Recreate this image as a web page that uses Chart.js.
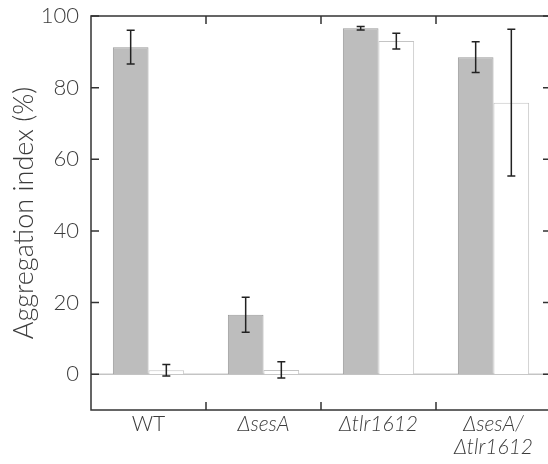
<!DOCTYPE html>
<html>
<head>
  <meta charset="utf-8" />
  <title>Aggregation index</title>
  <style>
    html, body { margin: 0; padding: 0; overflow: hidden; background: #fff; }
  </style>
</head>
<body>
  <canvas id="stage" width="556" height="464"></canvas>

  <script src="https://cdn.jsdelivr.net/npm/chart.js@4.4.1/dist/chart.umd.min.js"></script>
  <script>
    // 株ごとの値
    const strains = [['WT'], ['\u0394sesA'], ['\u0394tlr1612'], ['\u0394sesA/', '\u0394tlr1612']];
    const grayValues = [91.3, 16.6, 96.6, 88.5];
    const grayErrors = [4.7, 4.9, 0.5, 4.3];
    const whiteValues = [1.1, 1.2, 93.0, 75.8];
    const whiteErrors = [1.6, 2.3, 2.2, 20.5];
    const yTicks = [0, 20, 40, 60, 80, 100];

    const errors = [grayErrors, whiteErrors];
    const textColor = '#3c3c3c';
    const fontFamily = 'Lato, "Noto Sans", sans-serif';

    // ゼロ線・エラーバー・枠と内向きの目盛り
    const decorations = {
      id: 'decorations',
      beforeDatasetsDraw(chart) {
        const { ctx, chartArea: a, scales: { y } } = chart;
        const y0 = y.getPixelForValue(0);
        ctx.save();
        ctx.strokeStyle = '#a8a8a8';
        ctx.lineWidth = 1;
        ctx.beginPath();
        ctx.moveTo(a.left, y0);
        ctx.lineTo(a.right, y0);
        ctx.stroke();
        ctx.restore();
      },
      afterDatasetsDraw(chart) {
        const { ctx, chartArea: a, scales: { x, y } } = chart;
        ctx.save();
        ctx.strokeStyle = '#222';
        ctx.lineWidth = 1.5;
        chart.data.datasets.forEach((ds, di) => {
          chart.getDatasetMeta(di).data.forEach((bar, i) => {
            const v = ds.data[i], e = errors[di][i];
            const top = y.getPixelForValue(v + e);
            const bot = y.getPixelForValue(v - e);
            const cx = bar.x;
            ctx.beginPath();
            ctx.moveTo(cx, top); ctx.lineTo(cx, bot);
            ctx.moveTo(cx - 4, top); ctx.lineTo(cx + 4, top);
            ctx.moveTo(cx - 4, bot); ctx.lineTo(cx + 4, bot);
            ctx.stroke();
          });
        });

        ctx.strokeStyle = '#333';
        ctx.lineWidth = 1.5;
        ctx.strokeRect(a.left, a.top, a.right - a.left, a.bottom - a.top);

        const len = 8;
        ctx.beginPath();
        yTicks.forEach(v => {
          const py = y.getPixelForValue(v);
          ctx.moveTo(a.left, py); ctx.lineTo(a.left + len, py);
          ctx.moveTo(a.right, py); ctx.lineTo(a.right - len, py);
        });
        for (let i = 0; i < strains.length - 1; i++) {
          const px = (x.getPixelForValue(i) + x.getPixelForValue(i + 1)) / 2;
          ctx.moveTo(px, a.bottom); ctx.lineTo(px, a.bottom - len);
          ctx.moveTo(px, a.top); ctx.lineTo(px, a.top + len);
        }
        ctx.stroke();
        ctx.restore();
      }
    };

    new Chart(document.getElementById('stage'), {
      type: 'bar',
      data: {
        labels: strains,
        datasets: [{
          data: grayValues,
          backgroundColor: '#bdbdbd',
          borderColor: '#9a9a9a',
          borderWidth: 1
        }, {
          data: whiteValues,
          backgroundColor: '#ffffff',
          borderColor: '#c4c4c4',
          borderWidth: 1
        }]
      },
      options: {
        responsive: false,
        animation: false,
        layout: { padding: { top: 16, right: 5, left: 0, bottom: 0 } },
        datasets: { bar: { barPercentage: 1, categoryPercentage: 0.62 } },
        plugins: { legend: { display: false }, tooltip: { enabled: false } },
        scales: {
          x: {
            grid: { display: false, drawTicks: false, tickLength: 0 },
            border: { display: false },
            ticks: {
              color: textColor,
              padding: 3,
              maxRotation: 0,
              font: c => ({ family: fontFamily, size: 21, weight: 300, lineHeight: 1.1, style: c.index === 0 ? 'normal' : 'italic' })
            },
            afterFit: s => { s.height = 54; s.paddingLeft = 0; s.paddingRight = 0; }
          },
          y: {
            min: -10,
            max: 100,
            grid: { display: false, drawTicks: false, tickLength: 0 },
            border: { display: false },
            afterBuildTicks: s => { s.ticks = yTicks.map(v => ({ value: v })); },
            ticks: { color: textColor, padding: 12, font: { family: fontFamily, size: 22, weight: 300 } },
            title: {
              display: true,
              text: 'Aggregation index (%)',
              color: textColor,
              font: { family: fontFamily, size: 27, weight: 300 },
              padding: { top: 8, bottom: 0 }
            },
            afterFit: s => { s.width = 91; s.paddingTop = 0; s.paddingBottom = 0; }
          }
        }
      },
      plugins: [decorations]
    });
  </script>
</body>
</html>
